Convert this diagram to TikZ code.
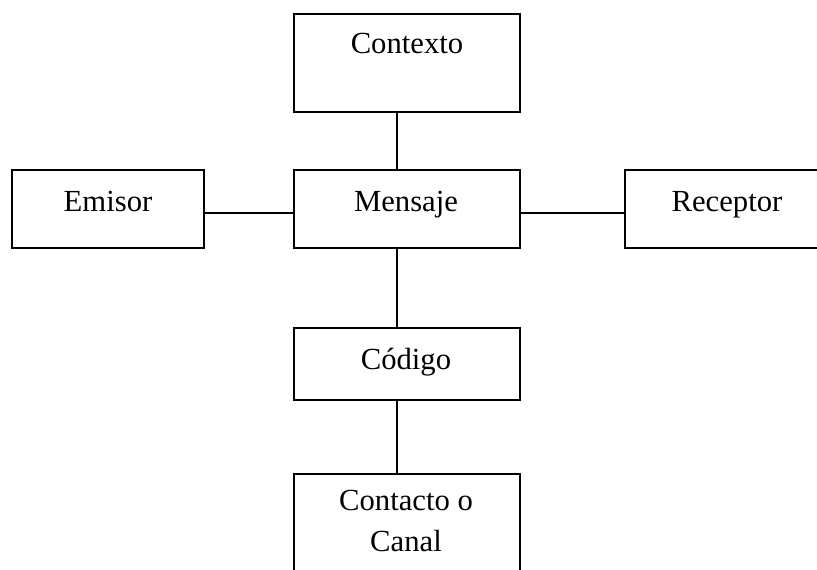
\documentclass[tikz,border=0pt]{standalone}
\usepackage{fontspec}
\setmainfont{Liberation Serif}
\begin{document}
\begin{tikzpicture}[x=0.75pt,y=-0.75pt,
  box/.style={draw=black,line width=1.5pt,rectangle,inner sep=0pt,outer sep=0pt,anchor=north west},
  txt/.style={inner sep=0pt,anchor=base,font=\fontsize{23}{30.75}\selectfont},
  conn/.style={draw=black,line width=1.5pt}]
\useasboundingbox (0,0) rectangle (817,569);
\clip (0,0) rectangle (817,569);
% boxes
\node[box,minimum width=169.5pt,minimum height=73.5pt] (ctx) at (294,14) {};
\node[box,minimum width=144pt,minimum height=58.5pt] (emi) at (12,170) {};
\node[box,minimum width=169.5pt,minimum height=58.5pt] (men) at (294,170) {};
\node[box,minimum width=160pt,minimum height=58.5pt] (rec) at (625,170) {};
\node[box,minimum width=169.5pt,minimum height=54pt] (cod) at (294,328) {};
\node[box,minimum width=169.5pt,minimum height=90pt] (con) at (294,474) {};
\coordinate (cx) at (397,0);
\coordinate (cy) at (0,213);
% texts
\node[txt] (tctx) at (407,53) {Contexto};
\node[txt] (temi) at (108,211) {Emisor};
\node[txt] (tmen) at (406,211) {Mensaje};
\node[txt] (trec) at (727,211) {Receptor};
\node[txt] (tcod) at (406,369) {Código};
\node[txt] (tcon1) at (406,510) {Contacto o};
\node[txt] (tcon2) at (406,551) {Canal};
% connectors
\draw[conn] (ctx.south -| cx) -- (men.north -| cx);
\draw[conn] (emi.east |- cy) -- (men.west |- cy);
\draw[conn] (men.east |- cy) -- (rec.west |- cy);
\draw[conn] (men.south -| cx) -- (cod.north -| cx);
\draw[conn] (cod.south -| cx) -- (con.north -| cx);
\end{tikzpicture}
\end{document}
